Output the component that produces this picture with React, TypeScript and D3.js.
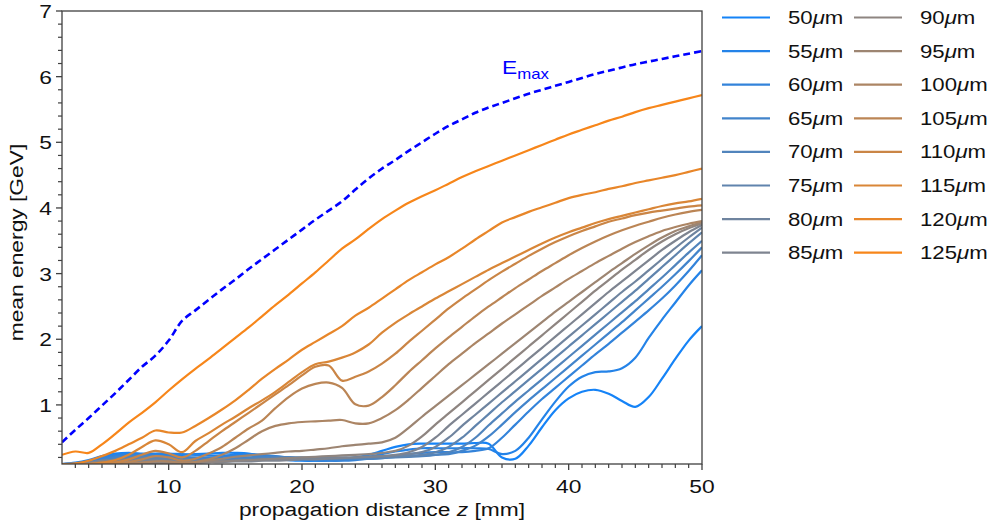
import React from "react";
import * as d3 from "d3";

const Z = [2,3,4,5,6,7,8,9,10,11,12,13,14,15,16,17,18,19,20,21,22,23,24,25,26,27,28,29,30,31,32,33,34,35,36,37,38,39,40,41,42,43,44,45,46,47,48,49,50];

const emax = [0.43,0.62,0.8,0.99,1.18,1.38,1.58,1.75,1.98,2.28,2.44,2.6,2.76,2.91,3.07,3.22,3.37,3.52,3.67,3.82,3.96,4.1,4.28,4.45,4.6,4.73,4.87,5.0,5.13,5.25,5.35,5.45,5.53,5.6,5.67,5.74,5.8,5.86,5.92,5.98,6.04,6.09,6.14,6.19,6.23,6.27,6.31,6.35,6.39];

const s50 = [0.1,0.12,0.16,0.22,0.26,0.27,0.26,0.25,0.24,0.24,0.25,0.26,0.27,0.27,0.26,0.22,0.18,0.16,0.15,0.15,0.16,0.18,0.2,0.24,0.3,0.36,0.4,0.41,0.41,0.41,0.41,0.42,0.41,0.2,0.18,0.38,0.66,0.92,1.1,1.2,1.23,1.17,1.06,0.97,1.12,1.4,1.7,1.98,2.2];
const s55 = [0.1,0.11,0.14,0.2,0.24,0.25,0.25,0.26,0.26,0.25,0.24,0.23,0.23,0.24,0.25,0.24,0.21,0.18,0.16,0.15,0.15,0.16,0.18,0.21,0.25,0.29,0.32,0.34,0.34,0.34,0.34,0.34,0.33,0.25,0.3,0.5,0.78,1.05,1.28,1.43,1.5,1.51,1.56,1.72,2.02,2.3,2.56,2.82,3.05];
const s60 = [0.1,0.11,0.13,0.18,0.22,0.24,0.24,0.23,0.22,0.21,0.2,0.2,0.21,0.22,0.23,0.23,0.22,0.2,0.18,0.16,0.15,0.15,0.16,0.18,0.2,0.23,0.25,0.27,0.28,0.28,0.28,0.3,0.34,0.5,0.7,0.9,1.09,1.26,1.43,1.6,1.77,1.93,2.1,2.27,2.44,2.62,2.82,3.04,3.28];
const s65 = [0.09,0.1,0.12,0.16,0.2,0.22,0.22,0.22,0.21,0.2,0.19,0.18,0.18,0.19,0.2,0.21,0.21,0.2,0.19,0.18,0.17,0.17,0.17,0.18,0.19,0.21,0.22,0.23,0.24,0.25,0.3,0.38,0.52,0.7,0.89,1.07,1.24,1.41,1.58,1.75,1.92,2.09,2.26,2.44,2.62,2.8,2.99,3.19,3.4];
const s70 = [0.09,0.1,0.11,0.14,0.18,0.2,0.21,0.2,0.19,0.18,0.17,0.16,0.16,0.17,0.18,0.19,0.2,0.2,0.2,0.19,0.18,0.18,0.18,0.18,0.19,0.2,0.21,0.22,0.24,0.28,0.36,0.5,0.69,0.87,1.05,1.22,1.39,1.56,1.73,1.9,2.07,2.24,2.41,2.58,2.76,2.94,3.13,3.32,3.5];
const s75 = [0.08,0.09,0.1,0.13,0.16,0.18,0.19,0.18,0.17,0.16,0.15,0.15,0.15,0.15,0.16,0.17,0.18,0.19,0.19,0.19,0.19,0.19,0.19,0.2,0.2,0.21,0.22,0.24,0.28,0.36,0.5,0.68,0.86,1.04,1.21,1.38,1.55,1.72,1.89,2.06,2.23,2.4,2.57,2.74,2.92,3.1,3.28,3.46,3.63];
const s80 = [0.08,0.09,0.1,0.12,0.14,0.16,0.16,0.16,0.15,0.14,0.14,0.14,0.14,0.15,0.15,0.16,0.17,0.18,0.19,0.19,0.2,0.2,0.2,0.21,0.22,0.23,0.25,0.28,0.36,0.5,0.68,0.85,1.02,1.19,1.36,1.53,1.7,1.87,2.04,2.21,2.38,2.55,2.72,2.88,3.05,3.22,3.39,3.55,3.7];
const s85 = [0.07,0.09,0.12,0.15,0.16,0.15,0.14,0.13,0.12,0.12,0.12,0.13,0.13,0.14,0.14,0.15,0.15,0.16,0.17,0.17,0.18,0.19,0.2,0.21,0.22,0.24,0.28,0.36,0.5,0.68,0.85,1.02,1.19,1.36,1.53,1.7,1.87,2.04,2.21,2.38,2.55,2.72,2.88,3.04,3.2,3.36,3.5,3.63,3.74];
const s90 = [0.07,0.08,0.1,0.12,0.13,0.12,0.11,0.1,0.1,0.11,0.12,0.13,0.14,0.15,0.16,0.17,0.18,0.19,0.2,0.21,0.22,0.23,0.24,0.25,0.27,0.3,0.38,0.52,0.7,0.87,1.04,1.21,1.38,1.55,1.72,1.89,2.06,2.23,2.4,2.57,2.74,2.9,3.06,3.21,3.36,3.49,3.6,3.69,3.76];
const s95 = [0.07,0.08,0.1,0.12,0.12,0.11,0.1,0.1,0.11,0.12,0.13,0.15,0.18,0.21,0.23,0.25,0.27,0.29,0.3,0.32,0.34,0.37,0.39,0.41,0.43,0.5,0.65,0.82,0.98,1.14,1.3,1.46,1.62,1.78,1.94,2.1,2.26,2.42,2.57,2.72,2.87,3.02,3.16,3.3,3.43,3.55,3.65,3.72,3.78];
const s100 = [0.07,0.07,0.07,0.08,0.08,0.1,0.12,0.14,0.14,0.12,0.13,0.17,0.24,0.34,0.47,0.6,0.68,0.72,0.74,0.75,0.76,0.77,0.72,0.72,0.8,0.92,1.08,1.26,1.44,1.62,1.78,1.94,2.09,2.24,2.38,2.52,2.66,2.79,2.92,3.04,3.16,3.27,3.38,3.48,3.57,3.65,3.71,3.76,3.8];
const s105 = [0.07,0.07,0.08,0.09,0.1,0.13,0.17,0.22,0.2,0.15,0.18,0.26,0.36,0.5,0.64,0.76,0.95,1.12,1.25,1.32,1.34,1.26,1.01,0.99,1.12,1.3,1.5,1.68,1.86,2.03,2.19,2.35,2.5,2.64,2.78,2.91,3.04,3.16,3.28,3.39,3.49,3.58,3.66,3.73,3.79,3.85,3.9,3.94,3.97];
const s110 = [0.07,0.08,0.09,0.1,0.12,0.17,0.24,0.3,0.26,0.2,0.3,0.45,0.6,0.74,0.88,1.02,1.16,1.3,1.45,1.58,1.6,1.37,1.43,1.51,1.63,1.78,1.96,2.13,2.3,2.47,2.62,2.76,2.9,3.03,3.15,3.27,3.38,3.48,3.57,3.65,3.72,3.79,3.84,3.89,3.93,3.96,3.99,4.02,4.04];
const s115 = [0.08,0.09,0.1,0.12,0.16,0.24,0.36,0.46,0.4,0.28,0.45,0.57,0.7,0.82,0.95,1.07,1.2,1.35,1.5,1.62,1.66,1.72,1.8,1.92,2.1,2.25,2.38,2.5,2.62,2.73,2.84,2.95,3.06,3.16,3.26,3.36,3.46,3.55,3.63,3.7,3.77,3.83,3.88,3.93,3.98,4.03,4.07,4.1,4.14];
const s120 = [0.1,0.11,0.15,0.22,0.3,0.4,0.5,0.61,0.58,0.58,0.68,0.8,0.93,1.07,1.23,1.4,1.55,1.69,1.84,1.96,2.08,2.2,2.36,2.48,2.62,2.76,2.9,3.02,3.14,3.25,3.38,3.52,3.65,3.78,3.86,3.94,4.01,4.08,4.15,4.2,4.24,4.29,4.33,4.38,4.42,4.46,4.5,4.55,4.6];
const s125 = [0.24,0.29,0.27,0.4,0.56,0.73,0.88,1.04,1.22,1.39,1.55,1.7,1.86,2.02,2.18,2.35,2.52,2.68,2.85,3.02,3.2,3.38,3.52,3.68,3.83,3.96,4.08,4.18,4.27,4.37,4.47,4.56,4.64,4.72,4.8,4.88,4.96,5.04,5.12,5.19,5.26,5.33,5.39,5.46,5.52,5.57,5.62,5.67,5.72];

const seriesNames = ["50","55","60","65","70","75","80","85","90","95","100","105","110","115","120","125"];
const seriesValues = [s50,s55,s60,s65,s70,s75,s80,s85,s90,s95,s100,s105,s110,s115,s120,s125];

const xTicks = [10,20,30,40,50];
const yTicks = [1,2,3,4,5,6,7];

const W = 995, H = 531;
const M = { left: 62, right: 702, top: 11, bottom: 464 };
const FONT = "'Liberation Sans', Arial, sans-serif";
const SX = 1.2;

function T(props: { x: number; y: number; rotate?: number; size?: number; anchor?: string; fill?: string; children: React.ReactNode }) {
  const { x, y, rotate = 0, size = 19, anchor = "start", fill = "#111", children } = props;
  return (
    <text
      transform={`translate(${x},${y}) rotate(${rotate}) scale(${SX},1)`}
      fontSize={size}
      textAnchor={anchor}
      fill={fill}
    >
      {children}
    </text>
  );
}

export default function App() {
  const x = d3.scaleLinear().domain([2, 50]).range([M.left, M.right]);
  const y = d3.scaleLinear().domain([0.1, 7]).range([M.bottom, M.top]);
  const color = (i: number) => d3.interpolateRgb("#1583f7", "#f7861a")(i / (seriesNames.length - 1));
  const line = d3.line<number>().x((_, i) => x(Z[i])).y((d) => y(d)).curve(d3.curveCatmullRom.alpha(0.5));

  const xMinor = d3.range(3, 50, 1).filter((v) => v % 10 !== 0);
  const yMinor = d3.range(0.2, 7, 0.2).filter((v) => Math.abs(v - Math.round(v)) > 0.01);

  const legendRowY = (i: number) => 17.5 + i * 33.6;
  const axisColor = "#404040";

  return (
    <svg width={W} height={H} style={{ position: "absolute", left: 0, top: 0, background: "#fff" }} fontFamily={FONT}>
      <defs>
        <clipPath id="plotclip">
          <rect x={M.left} y={M.top} width={M.right - M.left} height={M.bottom - M.top} />
        </clipPath>
      </defs>
      <g clipPath="url(#plotclip)">
        {seriesValues.map((vals, i) => (
          <path key={seriesNames[i]} d={line(vals) || ""} fill="none" stroke={color(i)} strokeWidth={2.2} strokeLinejoin="round" />
        ))}
        <path d={line(emax) || ""} fill="none" stroke="#0000ff" strokeWidth={2.6} strokeDasharray="7,4" />
      </g>
      <rect x={M.left} y={M.top} width={M.right - M.left} height={M.bottom - M.top} fill="none" stroke={axisColor} strokeWidth={1.3} />
      {xMinor.map((v) => (
        <line key={"xm" + v} x1={x(v)} x2={x(v)} y1={M.bottom} y2={M.bottom + 4} stroke={axisColor} strokeWidth={1.2} />
      ))}
      {xTicks.map((v) => (
        <g key={"xt" + v}>
          <line x1={x(v)} x2={x(v)} y1={M.bottom} y2={M.bottom + 6} stroke={axisColor} strokeWidth={1.3} />
          <T x={x(v)} y={M.bottom + 29} anchor="middle">{v}</T>
        </g>
      ))}
      {yMinor.map((v) => (
        <line key={"ym" + v.toFixed(1)} x1={M.left - 4} x2={M.left} y1={y(v)} y2={y(v)} stroke={axisColor} strokeWidth={1.2} />
      ))}
      {yTicks.map((v) => (
        <g key={"yt" + v}>
          <line x1={M.left - 6} x2={M.left} y1={y(v)} y2={y(v)} stroke={axisColor} strokeWidth={1.3} />
          <T x={M.left - 10} y={y(v) + 7} anchor="end">{v}</T>
        </g>
      ))}
      <T x={(M.left + M.right) / 2} y={516} anchor="middle">
        propagation distance <tspan fontStyle="italic">z</tspan> [mm]
      </T>
      <T x={23} y={(M.top + M.bottom) / 2 + 5} rotate={-90} anchor="middle">
        mean energy [GeV]
      </T>
      <T x={502} y={74} fill="#0000ff">
        E<tspan fontSize={14} dy={5}>max</tspan>
      </T>
      {seriesNames.map((name, i) => {
        const col = i < 8 ? 0 : 1;
        const row = i % 8;
        const lx = col === 0 ? 722 : 854;
        const tx = col === 0 ? 788 : 920;
        const ly = legendRowY(row);
        return (
          <g key={"lg" + name}>
            <line x1={lx} x2={lx + 48} y1={ly} y2={ly} stroke={color(i)} strokeWidth={2.2} />
            <T x={tx} y={ly + 6.5} size={18.5}>
              {name}<tspan fontStyle="italic">μ</tspan>m
            </T>
          </g>
        );
      })}
    </svg>
  );
}
